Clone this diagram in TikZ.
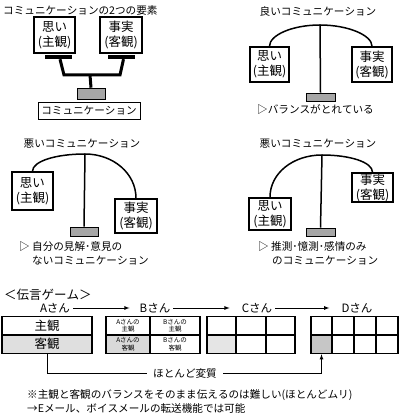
\documentclass[tikz,border=0pt]{standalone}
\usepackage{fontspec}
\setmainfont{Noto Sans CJK JP}[Kerning=Off]

\begin{document}
\begin{tikzpicture}[x=1pt,y=1pt,font=\fontsize{10.6}{11.5}\selectfont]
				\tikzstyle{every node}=[inner sep=1pt]
				\tikzstyle{kbox}=[draw,line width=1.6pt,fill=white,align=center,inner sep=0pt,
				font=\fontsize{12.5}{15}\selectfont]
				\tikzstyle{kbar}=[fill=black,inner sep=0pt,minimum width=27pt,minimum height=4pt]
				\tikzstyle{gbar}=[draw,fill=gray!70,line width=0.6pt,inner sep=0pt]
				\tikzstyle{beam}=[line width=1.5pt]
				\tikzstyle{san}=[font=\fontsize{11.5}{12}\selectfont]
				\tikzstyle{flow}=[line width=0.8pt]
				\tikzstyle{cell}=[draw,line width=1.5pt,inner sep=0pt,minimum height=18.5pt]
				\tikzstyle{tiny cell}=[cell,align=center,font=\fontsize{6.5}{7.5}\selectfont]
				\useasboundingbox (0,0) rectangle (400,417);
				\node[anchor=west] (title1) at (2,407) {コミュニケーションの2つの要素};
				\node[kbox,minimum width=41pt,minimum height=36pt] (omoi1) at (54.5,382) {思い\\(主観)};
				\node[kbox,minimum width=42pt,minimum height=36pt] (jijitsu1) at (121,382) {事実\\(客観)};
				\node[kbar] (lbar1) at (58.5,360) {};
				\node[kbar] (rbar1) at (121.5,360) {};
				\coordinate (lknee1) at (64,342);
				\coordinate (rknee1) at (120,342);
				\coordinate (mid1) at (90,342);
				\node[gbar,minimum width=28pt,minimum height=11pt] (base1) at (91,323.5) {};
				\draw[line width=3pt] ([xshift=1.5pt]lbar1.south) -- (lknee1) -- (rknee1) -- ([xshift=2pt]rbar1.south);
				\draw[line width=3pt] (mid1) -- (base1.north);
				\node[draw,line width=0.8pt,minimum width=102pt,minimum height=17pt] (comm1) at (89,306.5) {コミュニケーション};
				\node (title2) at (318,406) {良いコミュニケーション};
				\node[kbox,minimum width=39pt,minimum height=35pt] (omoi2) at (269.5,352.5) {思い\\(主観)};
				\node[kbox,minimum width=40pt,minimum height=35pt] (jijitsu2) at (372,352.5) {事実\\(客観)};
				\coordinate (top2) at (320,392);
				\node[gbar,minimum width=29pt,minimum height=8pt] (base2) at (320.5,320) {};
				\draw[beam] (omoi2.north) .. controls +(0,11) and +(-28,0) .. (top2)
				.. controls +(28,0) and +(0,11) .. (jijitsu2.north);
				\draw[beam] (top2) -- (base2.north);
				\node[anchor=west] (note2) at (256,307) {▷バランスがとれている};
				\node (title3) at (82,273) {悪いコミュニケーション};
				\node[kbox,minimum width=41pt,minimum height=38pt] (omoi3) at (32.5,226) {思い\\(主観)};
				\node[kbox,minimum width=42pt,minimum height=34pt] (jijitsu3) at (136,201) {事実\\(客観)};
				\coordinate (top3) at (85,263);
				\node[gbar,minimum width=28pt,minimum height=9pt] (base3) at (84,185.5) {};
				\draw[beam] (omoi3.north) .. controls +(0,10) and +(-29,0) .. (top3)
				.. controls +(28,0) and +(0,25) .. (jijitsu3.north);
				\draw[beam] (top3) -- (base3.north);
				\node[anchor=west] (note3a) at (18,170) {▷ 自分の見解･意見の};
				\node[anchor=west] (note3b) at (31,156) {ないコミュニケーション};
				\node (title4) at (318,273) {悪いコミュニケーション};
				\node[kbox,minimum width=42pt,minimum height=32pt] (omoi4) at (270,203) {思い\\(主観)};
				\node[kbox,minimum width=41pt,minimum height=29pt] (jijitsu4) at (372.5,229.5) {事実\\(客観)};
				\coordinate (top4) at (322,262);
				\node[gbar,minimum width=29pt,minimum height=8pt] (base4) at (320.5,185) {};
				\draw[beam] (omoi4.north) .. controls +(0,24) and +(-29,0) .. (top4)
				.. controls +(28,0) and +(0,10) .. (jijitsu4.north);
				\draw[beam] (top4) -- (base4.north);
				\node[anchor=west] (note4a) at (257,170) {▷ 推測･憶測･感情のみ};
				\node[anchor=west] (note4b) at (271,156) {のコミュニケーション};
				\node[anchor=west,font=\fontsize{12.5}{13}\selectfont] (game) at (3,122) {＜伝言ゲーム＞};
				\node[san] (sanA) at (55,109) {Aさん};
				\node[san] (sanB) at (155,109) {Bさん};
				\node[san] (sanC) at (257,109) {Cさん};
				\node[san] (sanD) at (357,109) {Dさん};
				\draw[flow,-latex,shorten <=2pt,shorten >=9pt] (sanA.east) -- (sanB.west);
				\draw[flow,-latex,shorten <=2pt,shorten >=11pt] (sanB.east) -- (sanC.west);
				\draw[flow,-latex,shorten <=2pt,shorten >=11pt] (sanC.east) -- (sanD.west);
				\node[cell,minimum width=90pt,font=\fontsize{12.5}{13}\selectfont] (a1) at (47,91.25) {主観};
				\node[cell,minimum width=90pt,fill=gray!25,font=\fontsize{12.5}{13}\selectfont] (a2) at (47,72.75) {客観};
				\node[tiny cell,minimum width=44pt] (b1) at (128,91.25) {Aさんの\\主観};
				\node[tiny cell,minimum width=50pt] (b2) at (175,91.25) {Bさんの\\主観};
				\node[tiny cell,minimum width=44pt,fill=gray!30] (b3) at (128,72.75) {Aさんの\\客観};
				\node[tiny cell,minimum width=50pt] (b4) at (175,72.75) {Bさんの\\客観};
				\node[cell,minimum width=29pt] (c1) at (221.5,91.25) {};
				\node[cell,minimum width=30pt] (c2) at (251,91.25) {};
				\node[cell,minimum width=29pt] (c3) at (280.5,91.25) {};
				\node[cell,minimum width=29pt,fill=gray!20] (c4) at (221.5,72.75) {};
				\node[cell,minimum width=30pt] (c5) at (251,72.75) {};
				\node[cell,minimum width=29pt] (c6) at (280.5,72.75) {};
				\node[cell,minimum width=21pt] (d1) at (321.5,91.25) {};
				\node[cell,minimum width=22pt] (d2) at (343,91.25) {};
				\node[cell,minimum width=22pt] (d3) at (365,91.25) {};
				\node[cell,minimum width=22pt] (d4) at (387,91.25) {};
				\node[cell,minimum width=21pt,fill=gray!45] (d5) at (321.5,72.75) {};
				\node[cell,minimum width=22pt] (d6) at (343,72.75) {};
				\node[cell,minimum width=22pt] (d7) at (365,72.75) {};
				\node[cell,minimum width=22pt] (d8) at (387,72.75) {};
				\node[fill=white,inner xsep=6pt] (henshitsu) at (185,44) {ほとんど変質};
				\draw[flow] (a2.south) |- (henshitsu.west);
				\draw[flow,-latex] (henshitsu.east) -| (d5.south);
				\node[anchor=west] (foot1) at (26,22) {※主観と客観のバランスをそのまま伝えるのは難しい(ほとんどムリ)};
				\node[anchor=west] (foot2) at (26,9) {→Eメール、ボイスメールの転送機能では可能};
\end{tikzpicture}
\end{document}
